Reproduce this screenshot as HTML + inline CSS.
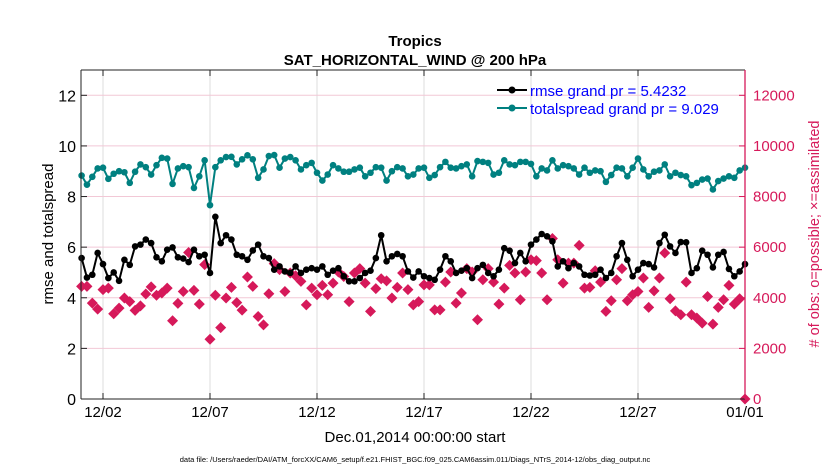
<!DOCTYPE html>
<html><head><meta charset="utf-8"><style>
html,body{margin:0;padding:0;background:#fff;}
svg{display:block;font-family:"Liberation Sans",sans-serif;}
</style></head><body>
<svg id="chart" width="830" height="470" viewBox="0 0 830 470">
<g id="grid"></g>
<g id="marks"></g>
<g id="axes"></g>
<text x="415" y="46" font-size="15" font-weight="bold" text-anchor="middle">Tropics</text>
<text x="415" y="65" font-size="15" font-weight="bold" text-anchor="middle">SAT_HORIZONTAL_WIND @ 200 hPa</text>
<text transform="translate(53,234) rotate(-90)" font-size="15" text-anchor="middle">rmse and totalspread</text>
<text transform="translate(819,234) rotate(-90)" font-size="14.5" fill="#d6195a" text-anchor="middle"># of obs: o=possible; ×=assimilated</text>
<text x="415" y="442" font-size="15" text-anchor="middle">Dec.01,2014 00:00:00 start</text>
<text x="415" y="462" font-size="7.5" text-anchor="middle">data file: /Users/raeder/DAI/ATM_forcXX/CAM6_setup/f.e21.FHIST_BGC.f09_025.CAM6assim.011/Diags_NTrS_2014-12/obs_diag_output.nc</text>
<g>
<line x1="497" y1="90" x2="527" y2="90" stroke="#000" stroke-width="2"/>
<circle cx="512" cy="90" r="3.5" fill="#000"/>
<text x="530" y="96" font-size="15" fill="#0000ff">rmse grand pr = 5.4232</text>
<line x1="497" y1="108" x2="527" y2="108" stroke="#008080" stroke-width="2"/>
<circle cx="512" cy="108" r="3.5" fill="#008080"/>
<text x="530" y="114" font-size="15" fill="#0000ff">totalspread grand pr = 9.029</text>
</g>
</svg>
<script>
const rmse=[5.57,4.80,4.91,5.77,5.33,4.78,5.00,4.67,5.50,5.30,6.03,6.10,6.30,6.16,5.60,5.44,5.90,5.99,5.60,5.55,5.41,5.90,5.64,5.70,4.98,7.20,6.16,6.47,6.30,5.70,5.64,5.50,
5.87,6.10,5.64,5.57,5.11,5.24,5.04,4.98,5.24,4.98,5.11,5.17,5.11,5.24,4.91,5.07,5.17,4.85,4.65,4.65,4.78,4.98,5.07,5.57,6.47,5.44,5.64,5.73,5.64,5.04,4.80,5.04,
4.85,4.78,4.71,5.11,5.64,5.44,4.98,5.07,5.17,4.78,5.17,5.30,4.98,4.85,5.11,5.96,5.86,5.37,5.77,5.44,6.10,6.30,6.52,6.43,6.23,5.24,5.44,5.17,5.37,5.24,4.91,
4.88,4.91,5.11,4.78,4.98,5.64,6.16,5.50,4.85,5.11,5.37,5.33,5.20,6.16,6.49,6.03,5.77,6.20,6.19,4.98,5.17,5.86,5.70,5.20,5.70,5.81,5.14,4.85,5.04,5.33];
const spread=[8.83,8.47,8.78,9.11,9.14,8.70,8.90,9.00,8.96,8.54,8.98,9.27,9.16,8.87,9.24,9.53,9.50,8.50,9.11,9.20,9.16,8.34,8.80,9.43,7.66,9.16,9.43,9.56,9.57,9.27,9.47,9.63,
9.47,8.74,9.07,9.60,9.64,9.14,9.50,9.56,9.43,9.07,9.24,9.33,8.94,8.63,8.87,9.24,9.11,8.98,8.98,9.07,9.14,8.80,8.94,9.16,9.14,8.63,9.00,9.16,9.11,8.80,8.87,9.11,
9.14,8.74,8.85,9.16,9.37,9.14,9.11,9.20,9.27,8.80,9.40,9.37,9.33,8.87,8.94,9.43,9.27,9.24,9.37,9.37,9.29,8.80,9.11,9.03,9.43,9.11,9.24,9.20,9.11,8.87,9.14,
8.94,9.03,9.00,8.58,8.85,9.14,9.11,8.80,9.14,9.50,9.07,8.80,8.98,9.03,9.27,8.80,8.94,8.85,8.80,8.45,8.54,8.67,8.71,8.28,8.61,8.71,8.80,8.74,9.03,9.14];
const obsCount=[4450,4450,3790,3550,4320,4380,3370,3590,3990,3850,3500,3680,4150,4430,4100,4190,4380,3090,3780,4250,5790,4290,3750,5310,2360,4100,2820,3990,4410,3810,3510,4820,
4450,3260,2930,4160,5350,5110,4250,4980,4870,4650,3720,4380,4120,4490,4120,4580,5020,4840,3850,4980,5150,4580,3460,4360,4750,4670,3990,4410,4980,4320,
3720,3850,4510,4510,3520,3520,4620,5020,3790,4190,5150,5020,3130,4710,5150,4620,3750,4380,5280,4980,3920,5020,5500,5470,4980,3920,6340,5500,4580,5370,5370,6070,
4380,4410,5070,4620,3460,3880,4710,5150,3880,4120,4250,4780,3620,4270,4780,5770,3960,3480,3330,4620,3330,3200,3000,4050,2960,3620,3920,4490,3750,3960,0];
const xTickLabels=["12/02","12/07","12/12","12/17","12/22","12/27","01/01"];
const xTickDays=[1,6,11,16,21,26,31];
const leftTicks=[0,2,4,6,8,10,12];
const rightTicks=[0,2000,4000,6000,8000,10000,12000];

const X0=81.6,X1=745,Y0=399,Y1=70;
const xs=d=>X0+(d/31)*(X1-X0);
const yl=v=>Y0-(v/13)*(Y0-Y1);
const yr=v=>Y0-(v/13000)*(Y0-Y1);
const NS="http://www.w3.org/2000/svg";
function mk(p,tag,attrs){const e=document.createElementNS(NS,tag);for(const k in attrs)e.setAttribute(k,attrs[k]);p.appendChild(e);return e;}
const grid=document.getElementById('grid'),marks=document.getElementById('marks'),axes=document.getElementById('axes');
xTickDays.forEach((d,i)=>{
  const g=mk(grid,'line',{x1:xs(d),x2:xs(d),y1:Y1,y2:Y0,stroke:'#dcdcdc','stroke-width':1});
  
  
  const t=mk(axes,'text',{x:xs(d),y:417,'font-size':15,'text-anchor':'middle'});
  t.textContent=xTickLabels[i];
  
  
  mk(axes,'line',{x1:xs(d),x2:xs(d),y1:Y0,y2:Y0-6,stroke:'#222'});
  mk(axes,'line',{x1:xs(d),x2:xs(d),y1:Y1,y2:Y1+6,stroke:'#222'});
});
rightTicks.forEach(v=>{
  const g=mk(grid,'line',{x1:81,x2:745,y1:yr(v),y2:yr(v),stroke:'#f2c8d6','stroke-width':1});
  
  
  const t=mk(axes,'text',{x:753,y:yr(v)+5,'font-size':15,fill:'#d6195a'});
  t.textContent=v;
  
  
  mk(axes,'line',{x1:745,x2:739,y1:yr(v),y2:yr(v),stroke:'#d6195a'});
});
leftTicks.forEach(v=>{
  const t=mk(axes,'text',{x:76,y:yl(v)+6,'font-size':16,'text-anchor':'end'});
  t.textContent=v;
  
  
  mk(axes,'line',{x1:81,x2:87,y1:yl(v),y2:yl(v),stroke:'#222'});
});
mk(axes,'line',{x1:81,x2:81,y1:Y1,y2:Y0,stroke:'#222','stroke-width':1});
mk(axes,'line',{x1:81,x2:745,y1:Y0,y2:Y0,stroke:'#222','stroke-width':1});
mk(axes,'line',{x1:81,x2:745,y1:Y1,y2:Y1,stroke:'#222','stroke-width':1});
mk(axes,'line',{x1:745,x2:745,y1:Y1,y2:Y0,stroke:'#d6195a','stroke-width':1.3});

obsCount.forEach((v,i)=>{
  if(v==null)return;
  const cx=xs(i/4),cy=yr(v),r=5.5;
  const p=mk(marks,'polygon',{points:`${cx},${cy-r} ${cx+r},${cy} ${cx},${cy+r} ${cx-r},${cy}`,fill:'#d6195a'});
  
  
});
function series(vals,color,name){
  const pts=vals.map((v,i)=>`${xs(i/4).toFixed(2)},${yl(v).toFixed(2)}`).join(' ');
  const pl=mk(marks,'polyline',{points:pts,fill:'none',stroke:color,'stroke-width':2});
  
  
  vals.forEach((v,i)=>{
    const c=mk(marks,'circle',{cx:xs(i/4),cy:yl(v),r:3.3,fill:color});
    
    
  });
}
series(spread,'#008080','totalspread');
series(rmse,'#000000','rmse');
</script>
</body></html>
